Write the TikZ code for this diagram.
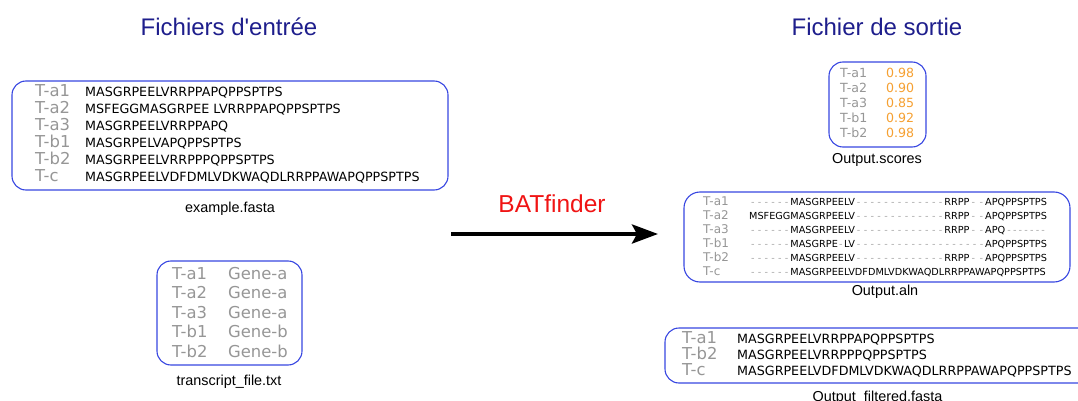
\documentclass[tikz,border=0pt]{standalone}
\usepackage{fontspec}
\setmainfont{Liberation Sans}
\newfontfamily\plainsans{Liberation Sans}[Ligatures=TeXOff]
\newfontfamily\dv{DejaVu Sans}
\usetikzlibrary{arrows.meta}
\definecolor{boxblue}{RGB}{55,70,225}
\definecolor{navy}{RGB}{30,30,140}
\definecolor{labgray}{RGB}{150,150,150}
\definecolor{dashgray}{RGB}{165,165,165}
\definecolor{scoreorange}{RGB}{245,160,50}
\definecolor{batred}{RGB}{240,20,20}
\ExplSyntaxOn
\cs_new_eq:NN \myrepl \prg_replicate:nn
\ExplSyntaxOff
\newcommand\gdashes[2]{\makebox[#2][s]{\hspace{2pt}\textcolor{dashgray}{\myrepl{#1-1}{-\hfill}-}\hspace{2pt}}}
\newlength\wA\newlength\wB\newlength\wC\newlength\wD\newlength\wE\newlength\wF\newlength\wG\newlength\wH\newlength\wCDE
\newcommand\alnfont{\dv\fontsize{9.7}{11}\selectfont}
\AtBeginDocument{%
\settowidth{\wA}{\alnfont MSFEGG}%
\settowidth{\wB}{\alnfont MASGRPEELV}%
\settowidth{\wC}{\alnfont DFDMLVDKWAQDL}%
\settowidth{\wD}{\alnfont RRPP}%
\settowidth{\wE}{\alnfont AW}%
\settowidth{\wF}{\alnfont APQPPSPTPS}%
\settowidth{\wG}{\alnfont PPSPTPS}%
\settowidth{\wH}{\alnfont E}%
\setlength{\wCDE}{\dimexpr\wC+\wD+\wE\relax}%
}
\tikzset{
  box/.style={draw=boxblue, line width=1.1pt, rounded corners=14pt, inner sep=0pt},
  title/.style={font=\plainsans\fontsize{24}{28}\selectfont, text=navy, anchor=base, inner sep=0pt},
  capt/.style={font=\fontsize{14.4}{17}\selectfont, anchor=base, inner sep=0pt},
  lab/.style={font=\dv\fontsize{16.4}{19}\selectfont, text=labgray, anchor=base west, inner sep=0pt},
  smlab/.style={font=\dv\fontsize{12.6}{15}\selectfont, text=labgray, anchor=base west, inner sep=0pt},
  seq/.style={font=\dv\fontsize{12.7}{15}\selectfont, anchor=base west, inner sep=0pt},
  score/.style={font=\dv\fontsize{12.6}{15}\selectfont, text=scoreorange, anchor=base west, inner sep=0pt},
  alnlab/.style={font=\dv\fontsize{12}{14}\selectfont, text=labgray, anchor=base west, inner sep=0pt},
  aln/.style={font=\alnfont, anchor=base west, inner sep=0pt},
}
\begin{document}
\begin{tikzpicture}[x=1pt,y=-1pt]
\useasboundingbox (0,0) rectangle (1078,401);

% titles
\node[title] (tin) at (229,36) {Fichiers d'entrée};
\node[title] (tout) at (877,36) {Fichier de sortie};

% input fasta
\node[box, minimum width=436pt, minimum height=109pt] (fasta) at (230,135.5) {};
\foreach \t/\s [count=\i from 0] in {T-a1/MASGRPEELVRRPPAPQPPSPTPS,
  T-a2/MSFEGGMASGRPEE LVRRPPAPQPPSPTPS,
  T-a3/MASGRPEELVRRPPAPQ,
  T-b1/MASGRPELVAPQPPSPTPS,
  T-b2/MASGRPEELVRRPPPQPPSPTPS,
  T-c/MASGRPEELVDFDMLVDKWAQDLRRPPAWAPQPPSPTPS}{
  \node[lab] (fl\i) at (35,97+16.9*\i) {\t};
  \node[seq] (fs\i) at (85,97+16.9*\i) {\s};
}
\node[capt] (fastacap) at (230,212) {example.fasta};

% transcript file
\node[box, minimum width=145pt, minimum height=104pt] (trans) at (229.5,313) {};
\foreach \t/\g [count=\i from 0] in {T-a1/Gene-a,T-a2/Gene-a,T-a3/Gene-a,T-b1/Gene-b,T-b2/Gene-b}{
  \node[lab] (tl\i) at (172,279+19.5*\i) {\t};
  \node[lab] (tg\i) at (228,279+19.5*\i) {\g};
}
\node[capt] (transcap) at (229,385.5) {transcript\_file.txt};

% arrow
\node[font=\fontsize{24.5}{28}\selectfont, text=batred, anchor=base, inner sep=0pt] (bat) at (552,212) {BATfinder};
\coordinate (arrS) at (451,234);
\coordinate (arrE) at (658,234);
\draw[line width=4pt, -{Stealth[length=26pt, width=19pt, inset=5pt]}] (arrS) -- (arrE);

% scores
\node[box, minimum width=97pt, minimum height=85pt] (scores) at (877.5,104.5) {};
\foreach \t/\v [count=\i from 0] in {T-a1/0.98,T-a2/0.90,T-a3/0.85,T-b1/0.92,T-b2/0.98}{
  \node[smlab] (sl\i) at (840,78+15*\i) {\t};
  \node[score] (sv\i) at (886,78+15*\i) {\v};
}
\node[capt] (scorecap) at (877,163.5) {Output.scores};

% alignment
\node[box, rounded corners=16pt, minimum width=386pt, minimum height=90pt] (alnbox) at (877,237) {};
\foreach \t [count=\i from 0] in {T-a1,T-a2,T-a3,T-b1,T-b2,T-c}{
  \node[alnlab] (al\i) at (703,205+14*\i) {\t};
}
\node[aln] (as0) at (749,205) {\gdashes{6}{\wA}MASGRPEELV\gdashes{13}{\wC}RRPP\gdashes{2}{\wE}APQPPSPTPS};
\node[aln] (as1) at (749,219) {MSFEGGMASGRPEELV\gdashes{13}{\wC}RRPP\gdashes{2}{\wE}APQPPSPTPS};
\node[aln] (as2) at (749,233) {\gdashes{6}{\wA}MASGRPEELV\gdashes{13}{\wC}RRPP\gdashes{2}{\wE}APQ\gdashes{7}{\wG}};
\node[aln] (as3) at (749,247) {\gdashes{6}{\wA}MASGRPE\makebox[\wH][c]{\textcolor{dashgray}{-}}LV\gdashes{19}{\wCDE}APQPPSPTPS};
\node[aln] (as4) at (749,261) {\gdashes{6}{\wA}MASGRPEELV\gdashes{13}{\wC}RRPP\gdashes{2}{\wE}APQPPSPTPS};
\node[aln] (as5) at (749,275) {\gdashes{6}{\wA}MASGRPEELVDFDMLVDKWAQDLRRPPAWAPQPPSPTPS};
\node[capt] (alncap) at (885,295.5) {Output.aln};

% filtered
\node[box, minimum width=430pt, minimum height=55pt] (filt) at (880,355.5) {};
\foreach \t/\s [count=\i from 0] in {T-a1/MASGRPEELVRRPPAPQPPSPTPS,
  T-b2/MASGRPEELVRRPPPQPPSPTPS,
  T-c/MASGRPEELVDFDMLVDKWAQDLRRPPAWAPQPPSPTPS}{
  \node[lab] (ql\i) at (682,343+16*\i) {\t};
  \node[seq] (qs\i) at (737,343+16*\i) {\s};
}
\node[capt] (filtcap) at (877.5,401) {Output\_filtered.fasta};
\end{tikzpicture}
\end{document}
